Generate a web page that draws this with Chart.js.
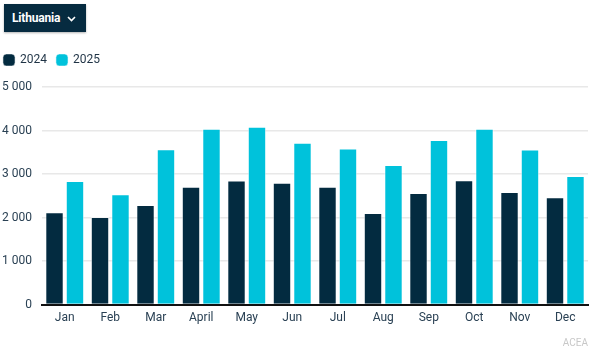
<!DOCTYPE html>
<html><head><meta charset="utf-8">
<script src="https://cdn.jsdelivr.net/npm/chart.js@4/dist/chart.umd.min.js"></script>
<style>
html,body{margin:0;padding:0;background:#fff;width:598px;height:357px;overflow:hidden;font-family:Roboto,sans-serif;}
#dd{position:absolute;left:4px;top:4px;width:82px;height:28px;background:#062b40;color:#fff;font-weight:bold;font-size:12px;line-height:28px;box-sizing:border-box;padding-left:8px;box-shadow:0 1px 2px rgba(0,0,0,0.3);letter-spacing:-0.2px;}
#dd svg{position:absolute;left:63px;top:12px;}
#wrap{position:absolute;left:0;top:44px;width:598px;height:313px;}
#credit{position:absolute;right:10px;top:337px;font-size:10px;color:#c8c8c8;font-family:Roboto,sans-serif;}
</style></head>
<body>
<div id="dd">Lithuania<svg width="9" height="6" viewBox="0 0 9 6"><path d="M1 1 L4.5 4.5 L8 1" stroke="#fff" stroke-width="1.6" fill="none"/></svg></div>
<div id="wrap"><canvas id="c"></canvas></div>
<div id="credit">ACEA</div>
<script>
const categories = ["Jan","Feb","Mar","April","May","Jun","Jul","Aug","Sep","Oct","Nov","Dec"];
const seriesNames = ["2024","2025"];
const values2024 = [2120,2010,2290,2710,2850,2800,2710,2105,2565,2857,2590,2465];
const values2025 = [2840,2535,3570,4041,4087,3720,3589,3206,3780,4040,3562,2956];
const yTicks = [0,1000,2000,3000,4000,5000];

const fmt = v => String(v).replace(/\B(?=(\d{3})+(?!\d))/g, ' ');

const legendSpacer = {
  id: 'legendSpacer',
  beforeInit(chart) {
    const origFit = chart.legend.fit;
    chart.legend.fit = function () {
      origFit.bind(chart.legend)();
      this.height += 11;
    };
  }
};

new Chart(document.getElementById('c'), {
  type: 'bar',
  plugins: [legendSpacer],
  data: {
    labels: categories,
    datasets: [
      {label: seriesNames[0], data: values2024, backgroundColor: '#032b40', borderColor: 'rgba(255,255,255,0.55)', borderWidth: 1, categoryPercentage: 0.9, barPercentage: 0.9},
      {label: seriesNames[1], data: values2025, backgroundColor: '#00c2db', borderColor: 'rgba(255,255,255,0.55)', borderWidth: 1, categoryPercentage: 0.9, barPercentage: 0.9}
    ]
  },
  options: {
    responsive: true,
    maintainAspectRatio: false,
    animation: false,
    layout: {padding: {left: -6, right: 10, top: 0, bottom: 26}},
    plugins: {
      legend: {
        position: 'top', align: 'start',
        labels: {boxWidth: 10, boxHeight: 10, usePointStyle: true, pointStyle: 'rectRounded', color: '#1f3345', font: {family: 'Roboto', size: 12}, padding: 10},
      },
      tooltip: {enabled: false}
    },
    scales: {
      x: {
        grid: {display: false, drawTicks: false},
        border: {color: '#111', width: 2},
        ticks: {color: '#2a4154', font: {family: 'Roboto', size: 12}, padding: 6}
      },
      y: {
        min: 0, max: 5000,
        afterBuildTicks: ax => { ax.ticks = yTicks.map(v => ({value: v})); },
        afterFit: ax => { ax.width = 48; },
        grid: {color: '#e8e8e8', lineWidth: 1.5, drawTicks: false},
        border: {display: false},
        ticks: {color: '#2a4154', font: {family: 'Roboto', size: 12}, padding: 10, callback: v => fmt(v)}
      }
    }
  }
});
</script>
</body></html>
